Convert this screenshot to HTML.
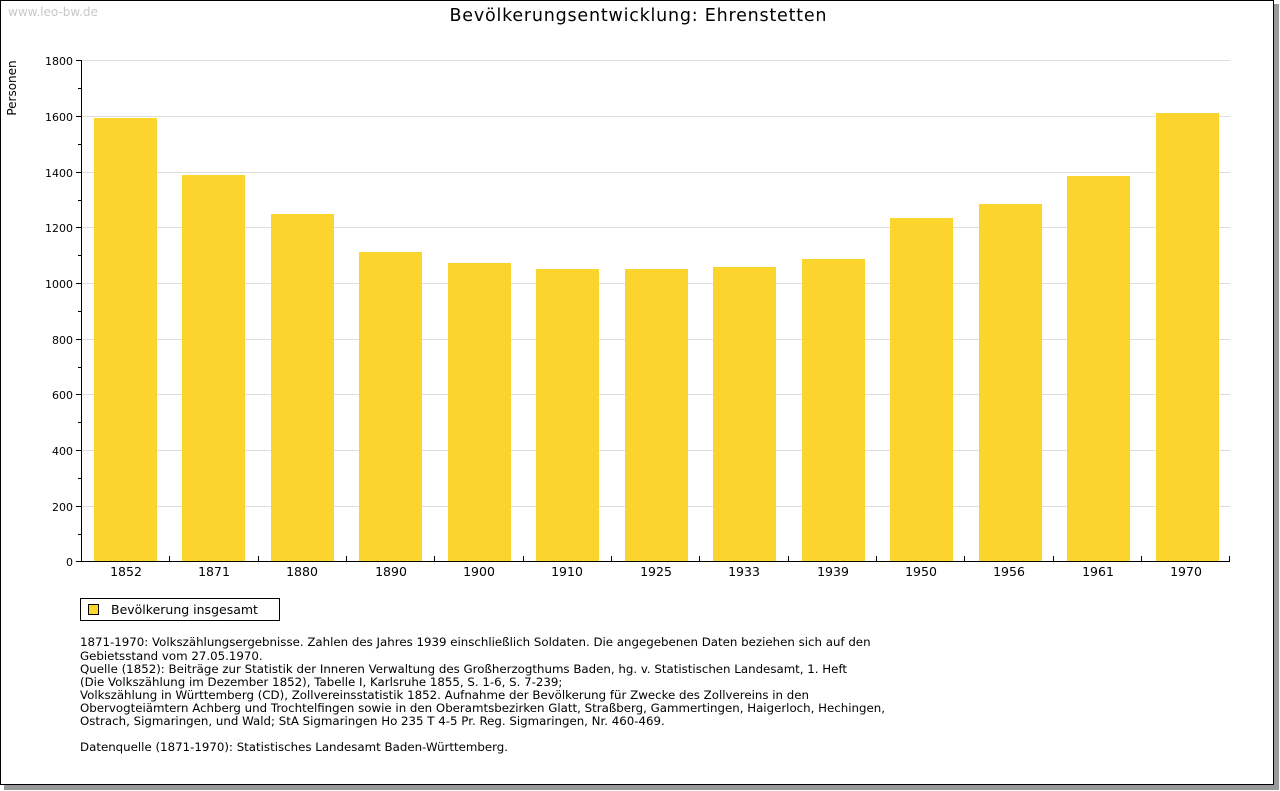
<!DOCTYPE html>
<html><head><meta charset="utf-8"><style>
body{margin:0;background:#fff;width:1280px;height:791px;overflow:hidden}
svg{display:block;font-family:"DejaVu Sans","Liberation Sans",sans-serif}
</style></head><body>
<svg width="1280" height="791" xmlns="http://www.w3.org/2000/svg">
<rect x="4" y="4" width="1275" height="786" fill="#999"/>
<rect x="0.5" y="0.5" width="1273" height="784" fill="#fff" stroke="#000"/>
<text x="8" y="16" font-size="12" fill="#c8c8c8">www.leo-bw.de</text>
<text x="638" y="21" font-size="17.5" text-anchor="middle" fill="#000" textLength="377" lengthAdjust="spacing">Bevölkerungsentwicklung: Ehrenstetten</text>
<text transform="translate(16,88) rotate(-90)" font-size="12" text-anchor="middle">Personen</text>
<g stroke="#ddd" stroke-width="1">
<line x1="82" x2="1230" y1="60.5" y2="60.5"/><line x1="82" x2="1230" y1="116.5" y2="116.5"/>
<line x1="82" x2="1230" y1="172.5" y2="172.5"/><line x1="82" x2="1230" y1="227.5" y2="227.5"/>
<line x1="82" x2="1230" y1="283.5" y2="283.5"/><line x1="82" x2="1230" y1="339.5" y2="339.5"/>
<line x1="82" x2="1230" y1="394.5" y2="394.5"/><line x1="82" x2="1230" y1="450.5" y2="450.5"/>
<line x1="82" x2="1230" y1="506.5" y2="506.5"/>
</g>
<g fill="#fbd52d">
<rect x="94" y="118" width="63" height="443"/>
<rect x="182" y="175" width="63" height="386"/>
<rect x="271" y="214" width="63" height="347"/>
<rect x="359" y="252" width="63" height="309"/>
<rect x="448" y="263" width="63" height="298"/>
<rect x="536" y="269" width="63" height="292"/>
<rect x="625" y="269" width="63" height="292"/>
<rect x="713" y="267" width="63" height="294"/>
<rect x="802" y="259" width="63" height="302"/>
<rect x="890" y="218" width="63" height="343"/>
<rect x="979" y="204" width="63" height="357"/>
<rect x="1067" y="176" width="63" height="385"/>
<rect x="1156" y="113" width="63" height="448"/>
</g>
<g stroke="#000" stroke-width="1">
<line x1="81.5" x2="81.5" y1="60" y2="561"/>
<line x1="81" x2="1230" y1="561.5" y2="561.5"/>
<line x1="76" x2="82" y1="60.5" y2="60.5"/><line x1="76" x2="82" y1="116.5" y2="116.5"/>
<line x1="76" x2="82" y1="172.5" y2="172.5"/><line x1="76" x2="82" y1="227.5" y2="227.5"/>
<line x1="76" x2="82" y1="283.5" y2="283.5"/><line x1="76" x2="82" y1="339.5" y2="339.5"/>
<line x1="76" x2="82" y1="394.5" y2="394.5"/><line x1="76" x2="82" y1="450.5" y2="450.5"/>
<line x1="76" x2="82" y1="506.5" y2="506.5"/><line x1="76" x2="82" y1="561.5" y2="561.5"/>
<line x1="78" x2="82" y1="88.5" y2="88.5"/><line x1="78" x2="82" y1="144.5" y2="144.5"/>
<line x1="78" x2="82" y1="200.5" y2="200.5"/><line x1="78" x2="82" y1="255.5" y2="255.5"/>
<line x1="78" x2="82" y1="311.5" y2="311.5"/><line x1="78" x2="82" y1="367.5" y2="367.5"/>
<line x1="78" x2="82" y1="422.5" y2="422.5"/><line x1="78" x2="82" y1="478.5" y2="478.5"/>
<line x1="78" x2="82" y1="534.5" y2="534.5"/>
<line x1="169.5" x2="169.5" y1="556" y2="561"/><line x1="258.5" x2="258.5" y1="556" y2="561"/>
<line x1="346.5" x2="346.5" y1="556" y2="561"/><line x1="434.5" x2="434.5" y1="556" y2="561"/>
<line x1="523.5" x2="523.5" y1="556" y2="561"/><line x1="611.5" x2="611.5" y1="556" y2="561"/>
<line x1="699.5" x2="699.5" y1="556" y2="561"/><line x1="788.5" x2="788.5" y1="556" y2="561"/>
<line x1="876.5" x2="876.5" y1="556" y2="561"/><line x1="964.5" x2="964.5" y1="556" y2="561"/>
<line x1="1053.5" x2="1053.5" y1="556" y2="561"/><line x1="1141.5" x2="1141.5" y1="556" y2="561"/>
<line x1="1229.5" x2="1229.5" y1="556" y2="561"/>
</g>
<g font-size="11" text-anchor="end">
<text x="73" y="65">1800</text><text x="73" y="121">1600</text><text x="73" y="177">1400</text>
<text x="73" y="232">1200</text><text x="73" y="288">1000</text><text x="73" y="344">800</text>
<text x="73" y="399">600</text><text x="73" y="455">400</text><text x="73" y="511">200</text>
<text x="73" y="566">0</text>
</g>
<g font-size="12.5" text-anchor="middle">
<text x="126" y="576">1852</text><text x="214" y="576">1871</text><text x="302" y="576">1880</text>
<text x="391" y="576">1890</text><text x="479" y="576">1900</text><text x="567" y="576">1910</text>
<text x="656" y="576">1925</text><text x="744" y="576">1933</text><text x="833" y="576">1939</text>
<text x="921" y="576">1950</text><text x="1009" y="576">1956</text><text x="1098" y="576">1961</text>
<text x="1186" y="576">1970</text>
</g>
<rect x="80.5" y="598.5" width="199" height="22" fill="#fff" stroke="#000"/>
<rect x="88.5" y="604.5" width="10" height="10" fill="#fbd52d" stroke="#000"/>
<text x="111" y="614" font-size="12.5">Bevölkerung insgesamt</text>
<g font-size="11.8">
<text x="80" y="646">1871-1970: Volkszählungsergebnisse. Zahlen des Jahres 1939 einschließlich Soldaten. Die angegebenen Daten beziehen sich auf den</text>
<text x="80" y="660">Gebietsstand vom 27.05.1970.</text>
<text x="80" y="673">Quelle (1852): Beiträge zur Statistik der Inneren Verwaltung des Großherzogthums Baden, hg. v. Statistischen Landesamt, 1. Heft</text>
<text x="80" y="686">(Die Volkszählung im Dezember 1852), Tabelle I, Karlsruhe 1855, S. 1-6, S. 7-239;</text>
<text x="80" y="699">Volkszählung in Württemberg (CD), Zollvereinsstatistik 1852. Aufnahme der Bevölkerung für Zwecke des Zollvereins in den</text>
<text x="80" y="712">Obervogteiämtern Achberg und Trochtelfingen sowie in den Oberamtsbezirken Glatt, Straßberg, Gammertingen, Haigerloch, Hechingen,</text>
<text x="80" y="725">Ostrach, Sigmaringen, und Wald; StA Sigmaringen Ho 235 T 4-5 Pr. Reg. Sigmaringen, Nr. 460-469.</text>
<text x="80" y="751">Datenquelle (1871-1970): Statistisches Landesamt Baden-Württemberg.</text>
</g>
</svg>
</body></html>
